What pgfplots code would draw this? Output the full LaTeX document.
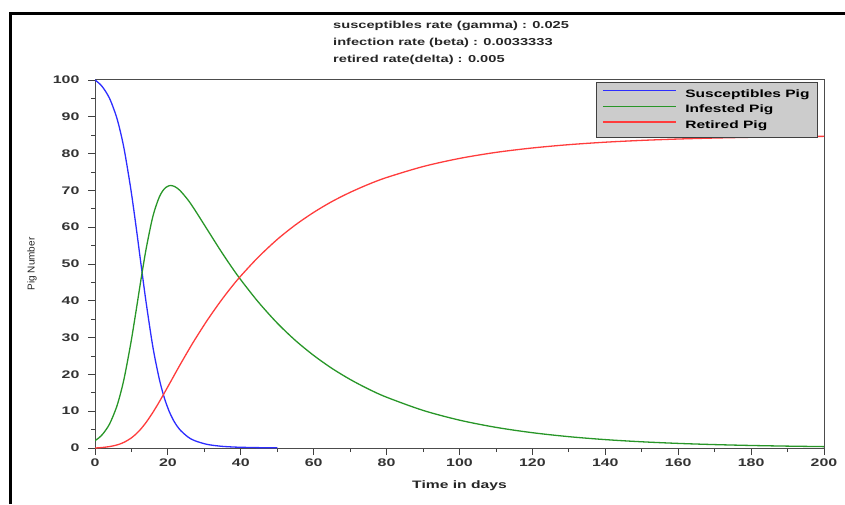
\documentclass[border=0pt]{standalone}
\usepackage{fontspec}
\setmainfont{Liberation Sans}[FakeStretch=1.45]
\newfontfamily\plainfont{Liberation Sans}
\usepackage{pgfplots}
\usepackage{pgfplotstable}
\pgfplotsset{compat=1.18}
\definecolor{sblue}{RGB}{45,45,255}
\definecolor{igreen}{RGB}{40,150,40}
\definecolor{rred}{RGB}{255,60,60}
\pgfplotstableread{
t S
0 100
1.0 99.22
2.15 98
4.0 95
5.89 90
7.19 85
8.22 80
9.88 70
11.29 60
12.61 50
13.96 40
15.46 30
16.33 25
17.36 20
17.94 17.5
18.61 15
19.39 12.5
20.33 10
20.78 9
21.83 7
23.26 5
25.49 3
27.33 2
30.68 1
34.35 0.5
37.32 0.3
39.87 0.2
44.75 0.1
50 0.05
}\Stab
\pgfplotstableread{
t I R
0 2 0
1.0 2.71 0.06
2.15 3.815 0.154
4.0 6.535 0.388
5.89 11.048 0.793
7.19 15.534 1.222
8.22 19.99 1.675
9.88 28.79 2.675
11.29 37.40 3.833
12.61 45.76 5.2
13.96 53.75 6.875
15.46 61.16 9.033
16.33 64.52 10.4
17.36 67.51 12.075
17.94 68.81 13.075
18.61 69.92 14.233
19.39 70.78 15.6
20.33 71.27 17.275
20.78 71.33 18.06
21.83 71.06 19.95
23.26 70.03 22.475
25.49 67.44 26.3
27.33 64.79 29.34
30.68 59.55 34.54
34.35 53.81 39.74
37.32 49.41 43.58
39.87 45.87 46.61
44.75 39.73 51.81
50 33.94 56.68
55 29.21 60.63
60 25.15 64.03
65 21.64 66.97
70 18.63 69.47
75 16.03 71.64
80 13.80 73.5
90 10.22 76.48
100 7.57 78.69
110 5.61 80.33
120 4.16 81.53
130 3.08 82.43
140 2.28 83.1
150 1.69 83.59
160 1.25 83.96
170 0.927 84.23
180 0.687 84.43
190 0.509 84.58
200 0.377 84.69
}\IRtab
\begin{document}
\begin{tikzpicture}[x=1pt,y=1pt]
\path[use as bounding box] (0,0) rectangle (845,504);
\draw[line width=2.7pt, line join=miter] (10.3,0) -- (10.3,490.7) -- (846,490.7);
\node[anchor=base west, inner sep=0pt, font=\bfseries\fontsize{10.1}{11}\selectfont, text=black!85] at (333,475.5) {susceptibles rate (gamma) : 0.025};
\node[anchor=base west, inner sep=0pt, font=\bfseries\fontsize{10.1}{11}\selectfont, text=black!85] at (333,458.3) {infection rate (beta) : 0.0033333};
\node[anchor=base west, inner sep=0pt, font=\bfseries\fontsize{10.1}{11}\selectfont, text=black!85] at (333,441.2) {retired rate(delta) : 0.005};
\begin{axis}[
  at={(95pt,56pt)}, anchor=south west,
  scale only axis, width=729pt, height=368pt,
  xmin=0, xmax=200, ymin=0, ymax=100,
  xtick={0,20,...,200}, ytick={0,10,...,100},
  minor x tick num=1, minor y tick num=1,
  xtick pos=bottom, ytick pos=left,
  tick align=outside,
  major tick length=7pt, minor tick length=4pt,
  every tick/.style={black!75, line width=0.9pt},
  axis line style={black!70, line width=1pt},
  /pgf/number format/assume math mode=true,
  ticklabel style={font=\bfseries\fontsize{11}{12}\selectfont, text=black!80},
  yticklabel style={xshift=-5pt},
  xlabel={Time in days},
  xlabel style={font=\bfseries\fontsize{10.8}{12}\selectfont, text=black!85, at={(axis description cs:0.5,0)}, anchor=base, yshift=-40pt},
  ylabel={Pig Number},
  ylabel style={font=\plainfont\fontsize{10}{12}\selectfont, text=black!85, at={(axis description cs:-0.0864,0.5)}, anchor=center},
  legend style={at={(0.9918,0.9946)}, anchor=north east, fill=black!20, draw=black!75, line width=1pt,
    font=\bfseries\fontsize{10.7}{12}\selectfont,
    inner xsep=6pt, inner ysep=5pt, row sep=2.4pt,
    /tikz/every odd column/.append style={column sep=7pt}},
  legend cell align=left,
]
\addplot[draw=sblue, line width=1.3pt, smooth,
  legend image code/.code={\draw[draw=sblue, line width=1.2pt] (0pt,3.5pt) -- (73pt,3.5pt);}] table[x=t, y=S] {\Stab};
\addlegendentry{Susceptibles Pig}
\addplot[draw=igreen, line width=1.3pt, smooth,
  legend image code/.code={\draw[draw=igreen, line width=1.2pt] (0pt,3.5pt) -- (73pt,3.5pt);}] table[x=t, y=I] {\IRtab};
\addlegendentry{Infested Pig}
\addplot[draw=rred, line width=1.3pt, smooth,
  legend image code/.code={\draw[draw=rred, line width=1.2pt] (0pt,3.5pt) -- (73pt,3.5pt);}] table[x=t, y=R] {\IRtab};
\addlegendentry{Retired Pig}
\end{axis}
\end{tikzpicture}
\end{document}
